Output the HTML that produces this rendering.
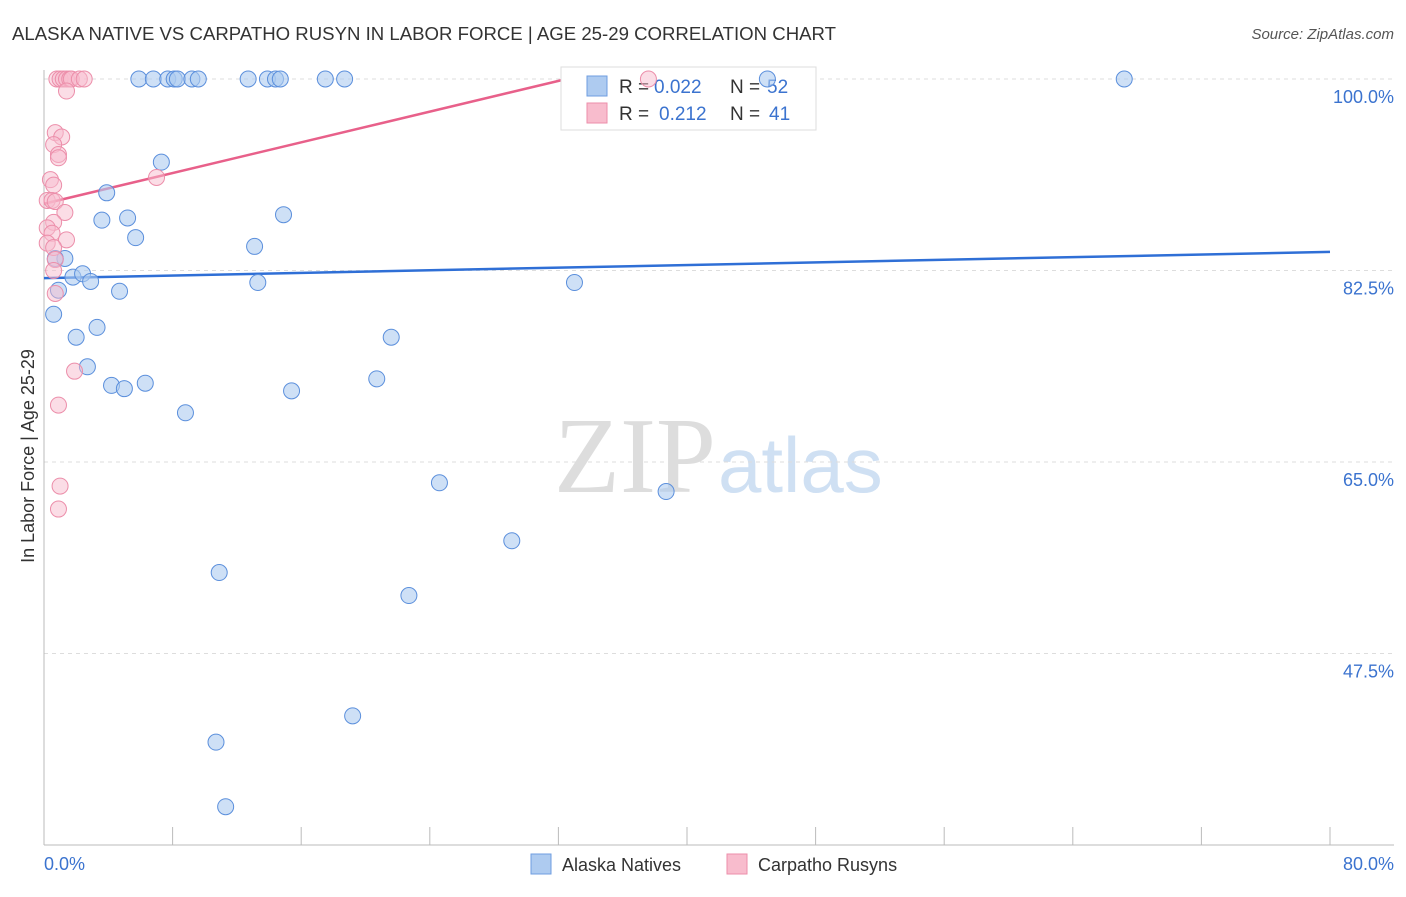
<!DOCTYPE html>
<html><head><meta charset="utf-8"><style>
body{margin:0;background:#fff;font-family:"Liberation Sans",sans-serif}
</style></head><body>
<svg width="1406" height="892">
<text x="12" y="40" font-size="18" fill="#333" textLength="824" lengthAdjust="spacingAndGlyphs">ALASKA NATIVE VS CARPATHO RUSYN IN LABOR FORCE | AGE 25-29 CORRELATION CHART</text>
<text x="1394" y="39" font-size="15" fill="#555" font-style="italic" text-anchor="end">Source: ZipAtlas.com</text>
<text x="716" y="492" font-size="108" fill="#ddd" text-anchor="end" font-family="Liberation Serif">ZIP</text>
<text x="718" y="492" font-size="78" fill="#cfe0f3">atlas</text>
<g id="grid"></g><g id="axes"></g><g id="lines"></g>
<g>
<rect x="561" y="67" width="255" height="63" fill="#fff" stroke="#ddd"/>
<rect x="587" y="76" width="20" height="20" fill="#aecbf0" stroke="#6f9ee0"/>
<rect x="587" y="103" width="20" height="20" fill="#f8bccd" stroke="#ec8eaa"/>
<text x="619" y="93" font-size="19" fill="#333">R =</text>
<text x="654" y="93" font-size="19" fill="#3b73cf">0.022</text>
<text x="730" y="93" font-size="19" fill="#333">N =</text>
<text x="767" y="93" font-size="19" fill="#3b73cf">52</text>
<text x="619" y="120" font-size="19" fill="#333">R =</text>
<text x="659" y="120" font-size="19" fill="#3b73cf">0.212</text>
<text x="730" y="120" font-size="19" fill="#333">N =</text>
<text x="769" y="120" font-size="19" fill="#3b73cf">41</text>
</g>
<g id="pts"></g>
<text transform="translate(34,456) rotate(-90)" font-size="18" fill="#333" text-anchor="middle">In Labor Force | Age 25-29</text>
<text x="44" y="870" font-size="18" fill="#3b73cf">0.0%</text>
<text x="1394" y="870" font-size="18" fill="#3b73cf" text-anchor="end">80.0%</text>
<g><rect x="531" y="854" width="20" height="20" fill="#aecbf0" stroke="#6f9ee0"/><text x="562" y="871" font-size="18" fill="#333">Alaska Natives</text></g>
<g><rect x="727" y="854" width="20" height="20" fill="#f8bccd" stroke="#ec8eaa"/><text x="758" y="871" font-size="18" fill="#333">Carpatho Rusyns</text></g>
</svg>
<script>
const yTicks=[100,82.5,65,47.5];
const blueX=[5.9,6.8,7.7,8.1,8.3,9.2,9.6,12.7,13.9,14.4,14.7,17.5,18.7,45.0,67.2,7.3,3.9,3.6,5.2,5.7,14.9,13.1,1.3,0.7,1.8,2.4,2.9,0.9,4.7,13.3,33.0,0.6,3.3,2.0,21.6,2.7,4.2,5.0,6.3,20.7,15.4,8.8,24.6,38.7,29.1,10.9,22.7,19.2,10.7,11.3];
const blueY=[100,100,100,100,100,100,100,100,100,100,100,100,100,100,100,92.4,89.6,87.1,87.3,85.5,87.6,84.7,83.6,83.6,81.9,82.2,81.5,80.7,80.6,81.4,81.4,78.5,77.3,76.4,76.4,73.7,72.0,71.7,72.2,72.6,71.5,69.5,63.1,62.3,57.8,54.9,52.8,41.8,39.4,33.5];
const pinkX=[0.8,1.0,1.2,1.4,1.6,1.7,2.2,2.5,1.4,37.6,0.7,1.1,0.6,0.9,0.9,0.4,0.6,7.0,0.2,0.5,0.7,1.3,0.6,0.2,0.5,1.4,0.2,0.6,0.7,0.6,0.7,1.9,0.9,1.0,0.9];
const pinkY=[100,100,100,100,100,100,100,100,98.9,100,95.1,94.7,94.0,93.1,92.8,90.8,90.3,91.0,88.9,88.9,88.8,87.8,86.9,86.4,85.9,85.3,85.0,84.6,83.5,82.5,80.4,73.3,70.2,62.8,60.7];
const blueTrend=[81.8,84.2];
const pinkTrend=[88.6,100];const pinkTrendEnd=32.5;
const X=v=>44+v*16.075, Y=v=>79+(100-v)*10.943;
const NS='http://www.w3.org/2000/svg';
function mk(t,a,p){const e=document.createElementNS(NS,t);for(const k in a)e.setAttribute(k,a[k]);document.getElementById(p).appendChild(e);return e;}
yTicks.forEach(t=>{
 const l=mk('line',{x1:44,x2:1394,y1:Y(t),y2:Y(t),stroke:'#ddd','stroke-dasharray':'4,4'},'grid');
 
 
 const tx=mk('text',{x:1394,y:Y(t)+24,'font-size':18,fill:'#3b73cf','text-anchor':'end'},'grid');
 tx.textContent=t.toFixed(1)+'%';
 
 
});
const ax=mk('line',{x1:44,x2:1394,y1:845,y2:845,stroke:'#bbb'},'axes');


const ay=mk('line',{x1:44,x2:44,y1:70,y2:845,stroke:'#bbb'},'axes');


for(let i=0;i<=10;i++){const t=mk('line',{x1:X(i*8),x2:X(i*8),y1:827,y2:845,stroke:'#bbb'},'axes');
 
 }
blueX.forEach((v,i)=>{const c=mk('circle',{cx:X(v),cy:Y(blueY[i]),r:8,fill:'#aecbf0','fill-opacity':0.6,stroke:'#5b8fdc','stroke-width':1},'pts');
 
 });
pinkX.forEach((v,i)=>{const c=mk('circle',{cx:X(v),cy:Y(pinkY[i]),r:8,fill:'#f8bccd','fill-opacity':0.5,stroke:'#ec8eaa','stroke-width':1},'pts');
 
 });
const bl=mk('line',{x1:X(0),y1:Y(blueTrend[0]),x2:X(80),y2:Y(blueTrend[1]),stroke:'#2f6fd6','stroke-width':2.5},'lines');


const pl=mk('line',{x1:X(0),y1:Y(pinkTrend[0]),x2:X(pinkTrendEnd),y2:Y(pinkTrend[1]),stroke:'#e8608a','stroke-width':2.5},'lines');


</script>
</body></html>
